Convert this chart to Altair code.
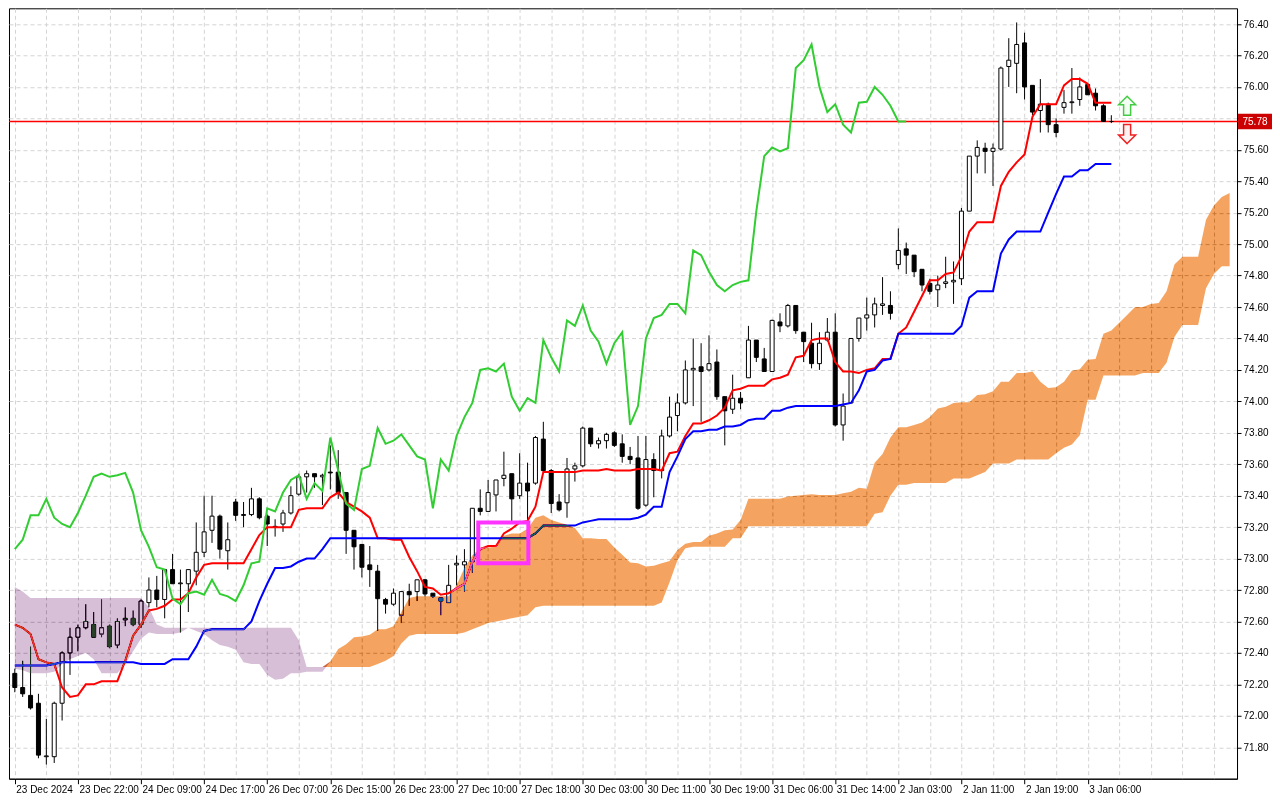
import json
import altair as alt
import pandas as pd

# ---------------- data ----------------
opens = [72.27, 72.18, 72.13, 72.08, 71.74, 71.74, 72.08, 72.40, 72.50, 72.56,
         72.58, 72.52, 72.57, 72.45, 72.61, 72.62, 72.58, 72.72, 72.80, 72.74,
         72.93, 72.84, 72.84, 72.92, 73.04, 73.18, 73.27, 73.05, 73.36, 73.28,
         73.28, 73.38, 73.27, 73.205, 73.22, 73.29, 73.41, 73.52, 73.54, 73.52,
         73.55, 73.55, 73.42, 73.18, 73.09, 72.96, 72.92, 72.74, 72.71, 72.64,
         72.79, 72.79, 72.865, 72.78, 72.75, 72.72, 72.96, 72.96, 72.98, 73.32,
         73.30, 73.405, 73.51, 73.54, 73.40, 73.48, 73.48, 73.76, 73.56, 73.36,
         73.355, 73.57, 73.59, 73.83, 73.73, 73.75, 73.80, 73.73, 73.65, 73.64,
         73.34, 73.63, 73.56, 73.78, 73.91, 73.99, 74.20, 74.22, 74.20, 74.25,
         74.03, 73.95, 74.02, 74.15, 74.39, 74.27, 74.19, 74.505, 74.48, 74.61,
         74.44, 74.37, 74.24, 74.39, 74.44, 73.85, 73.99, 74.40, 74.53, 74.55,
         74.61, 74.61, 74.87, 74.97, 74.93, 74.84, 74.75, 74.71, 74.75, 74.76,
         74.78, 75.21, 75.56, 75.61, 75.59, 75.605, 76.13, 76.15, 76.28, 76.01,
         75.85, 75.89, 75.76, 75.87, 75.90, 75.92, 76.015, 75.96, 75.88, 75.78]
highs = [72.30, 72.35, 72.44, 72.14, 71.98, 72.09, 72.41, 72.56, 72.58, 72.71,
         72.66, 72.74, 72.58, 72.62, 72.69, 72.67, 72.74, 72.88, 72.89, 72.93,
         73.03, 72.93, 72.93, 73.23, 73.40, 73.40, 73.28, 73.23, 73.38, 73.36,
         73.45, 73.39, 73.28, 73.25, 73.31, 73.46, 73.54, 73.56, 73.54, 73.54,
         73.72, 73.69, 73.42, 73.18, 73.09, 73.08, 72.96, 72.75, 72.81, 72.79,
         72.84, 72.865, 72.87, 72.78, 72.75, 72.96, 73.02, 73.06, 73.32, 73.44,
         73.50, 73.50, 73.68, 73.54, 73.67, 73.61, 73.78, 73.87, 73.57, 73.41,
         73.64, 73.61, 73.84, 73.83, 73.77, 73.80, 73.81, 73.79, 73.71, 73.78,
         73.78, 73.67, 73.82, 74.03, 74.05, 74.26, 74.40, 74.37, 74.42, 74.33,
         74.03, 74.17, 74.06, 74.48, 74.39, 74.34, 74.52, 74.56, 74.62, 74.61,
         74.44, 74.50, 74.44, 74.53, 74.56, 74.05, 74.40, 74.53, 74.66, 74.66,
         74.79, 74.70, 75.10, 75.01, 74.93, 74.84, 74.78, 74.80, 74.92, 74.89,
         75.23, 75.56, 75.66, 75.645, 75.64, 76.13, 76.31, 76.41, 76.345, 76.01,
         76.05, 75.90, 75.80, 75.98, 76.12, 76.06, 76.02, 75.99, 75.89, 75.82]
lows = [72.15, 72.12, 72.04, 71.73, 71.69, 71.70, 71.97, 72.26, 72.41, 72.55,
        72.50, 72.50, 72.43, 72.43, 72.57, 72.57, 72.56, 72.69, 72.69, 72.62,
        72.84, 72.53, 72.66, 72.83, 73.01, 73.10, 73.00, 72.93, 73.24, 73.20,
        73.27, 73.25, 73.08, 73.14, 73.17, 73.28, 73.40, 73.42, 73.45, 73.34,
        73.44, 73.38, 73.03, 72.93, 72.88, 72.82, 72.54, 72.65, 72.70, 72.59,
        72.70, 72.73, 72.76, 72.75, 72.64, 72.72, 72.83, 72.79, 72.91, 73.275,
        73.30, 73.30, 73.46, 73.23, 73.38, 73.23, 73.47, 73.55, 73.29, 73.30,
        73.26, 73.49, 73.58, 73.71, 73.70, 73.70, 73.71, 73.61, 73.60, 73.31,
        73.33, 73.39, 73.51, 73.77, 73.81, 73.98, 73.97, 73.87, 74.19, 74.01,
        73.72, 73.92, 73.95, 74.15, 74.25, 74.19, 74.19, 74.44, 74.47, 74.43,
        74.25, 74.21, 74.20, 74.38, 73.84, 73.75, 73.99, 74.38, 74.45, 74.47,
        74.55, 74.52, 74.84, 74.81, 74.79, 74.70, 74.68, 74.60, 74.72, 74.62,
        74.74, 75.21, 75.45, 75.45, 75.37, 75.595, 76.00, 75.96, 75.92, 75.82,
        75.71, 75.71, 75.68, 75.83, 75.83, 75.88, 75.95, 75.85, 75.78, 75.77]
closes = [72.18, 72.14, 72.05, 71.75, 71.745, 72.08, 72.40, 72.50, 72.56, 72.60,
          72.50, 72.56, 72.44, 72.60, 72.62, 72.58, 72.73, 72.80, 72.74, 72.93,
          72.84, 72.845, 72.93, 73.04, 73.17, 73.27, 73.06, 73.12, 73.275, 73.275,
          73.38, 73.26, 73.22, 73.20, 73.29, 73.40, 73.52, 73.54, 73.52, 73.53,
          73.545, 73.42, 73.18, 73.075, 72.945, 72.93, 72.745, 72.71, 72.78, 72.79,
          72.77, 72.865, 72.775, 72.76, 72.73, 72.83, 72.97, 72.98, 73.32, 73.30,
          73.42, 73.50, 73.53, 73.38, 73.48, 73.43, 73.77, 73.56, 73.35, 73.31,
          73.57, 73.59, 73.83, 73.73, 73.75, 73.79, 73.72, 73.65, 73.63, 73.32,
          73.63, 73.56, 73.78, 73.90, 73.99, 74.20, 74.21, 74.19, 74.24, 74.03,
          73.94, 74.02, 73.99, 74.39, 74.28, 74.19, 74.515, 74.48, 74.61, 74.45,
          74.38, 74.24, 74.37, 74.44, 73.85, 73.97, 74.40, 74.53, 74.55, 74.62,
          74.62, 74.56, 74.96, 74.93, 74.825, 74.74, 74.70, 74.74, 74.76, 74.77,
          75.21, 75.56, 75.615, 75.59, 75.61, 76.12, 76.17, 76.27, 76.00, 75.84,
          75.89, 75.76, 75.71, 75.90, 75.905, 76.00, 75.95, 75.88, 75.78, 75.78]

tenkan = [72.58, 72.56, 72.52, 72.36, 72.34, 72.33, 72.18, 72.12, 72.13, 72.20,
          72.20, 72.22, 72.22, 72.22, 72.35, 72.51, 72.58, 72.67, 72.68, 72.70,
          72.74, 72.74, 72.78, 72.88, 72.96, 72.97, 72.97, 72.97, 72.97, 72.97,
          73.06, 73.15, 73.20, 73.20, 73.20, 73.20, 73.31, 73.32, 73.32, 73.32,
          73.39, 73.42, 73.36, 73.33, 73.30, 73.26, 73.13, 73.13, 73.12, 73.12,
          73.01, 72.92, 72.82, 72.81, 72.77, 72.78, 72.81, 72.84, 72.98, 73.06,
          73.08, 73.08, 73.16, 73.19, 73.23, 73.24, 73.33, 73.55, 73.55, 73.55,
          73.55, 73.55, 73.56, 73.56, 73.56, 73.57, 73.56, 73.56, 73.56, 73.57,
          73.57, 73.57, 73.56, 73.67, 73.68, 73.78, 73.86, 73.86, 73.88, 73.91,
          73.96, 74.07, 74.08, 74.10, 74.10, 74.10, 74.14, 74.15, 74.17, 74.28,
          74.29, 74.39, 74.40, 74.40, 74.25, 74.19, 74.19, 74.18, 74.20, 74.21,
          74.27, 74.27, 74.43, 74.47, 74.57, 74.67, 74.77, 74.77, 74.81, 74.82,
          74.92, 75.08, 75.14, 75.14, 75.14, 75.37, 75.46, 75.52, 75.57, 75.81,
          75.89, 75.89, 75.89, 76.01, 76.05, 76.05, 76.02, 75.90, 75.90, 75.90]

kijun = [72.32, 72.32, 72.32, 72.32, 72.32, 72.33, 72.34, 72.34, 72.34, 72.34,
         72.34, 72.34, 72.34, 72.34, 72.34, 72.34, 72.33, 72.33, 72.33, 72.33,
         72.36, 72.36, 72.36, 72.44, 72.54, 72.55, 72.55, 72.55, 72.55, 72.55,
         72.60, 72.73, 72.84, 72.94, 72.94, 72.95, 72.98, 73.00, 73.00, 73.06,
         73.13, 73.13, 73.13, 73.13, 73.13, 73.13, 73.13, 73.13, 73.13, 73.13,
         73.13, 73.13, 73.13, 73.13, 73.13, 73.13, 73.13, 73.13, 73.13, 73.13,
         73.13, 73.13, 73.13, 73.13, 73.13, 73.13, 73.16, 73.21, 73.21, 73.21,
         73.21, 73.21, 73.23, 73.24, 73.25, 73.25, 73.25, 73.25, 73.25, 73.26,
         73.28, 73.33, 73.33, 73.55, 73.65, 73.76, 73.81, 73.81, 73.82, 73.82,
         73.84, 73.84, 73.85, 73.88, 73.89, 73.89, 73.94, 73.94, 73.96, 73.97,
         73.97, 73.97, 73.97, 73.97, 73.97, 73.98, 73.99, 74.07, 74.19, 74.20,
         74.26, 74.27, 74.43, 74.43, 74.43, 74.43, 74.43, 74.43, 74.43, 74.43,
         74.48, 74.66, 74.70, 74.70, 74.70, 74.94, 75.03, 75.08, 75.08, 75.08,
         75.08, 75.20, 75.32, 75.43, 75.43, 75.47, 75.47, 75.51, 75.51, 75.51]

span_a = [72.30, 72.29, 72.27, 72.27, 72.27, 72.28, 72.33, 72.36, 72.38, 72.40,
          72.36, 72.27, 72.27, 72.27, 72.33, 72.41, 72.49, 72.53, 72.52, 72.52,
          72.52, 72.53, 72.56, 72.54, 72.52, 72.48,
          72.45, 72.44, 72.42, 72.34, 72.33, 72.33, 72.26, 72.23, 72.235, 72.27,
          72.27, 72.28, 72.28, 72.28, 72.345, 72.425, 72.455, 72.50, 72.505, 72.515,
          72.55, 72.55, 72.57, 72.66, 72.75, 72.76, 72.76, 72.76, 72.76, 72.76,
          72.83, 72.94, 73.02, 73.07, 73.07, 73.075, 73.145, 73.16, 73.16, 73.19,
          73.26, 73.275, 73.245, 73.23, 73.215, 73.195, 73.13, 73.13, 73.125, 73.125,
          73.07, 73.025, 72.975, 72.97, 72.95, 72.955, 72.97, 72.985, 73.055, 73.095,
          73.105, 73.105, 73.145, 73.16, 73.18, 73.185, 73.245, 73.38, 73.38, 73.38,
          73.38, 73.38, 73.395, 73.40, 73.405, 73.41, 73.405, 73.405, 73.405, 73.415,
          73.425, 73.45, 73.445, 73.61, 73.665, 73.77, 73.835, 73.835, 73.85, 73.865,
          73.90, 73.955, 73.965, 73.99, 73.995, 73.995, 74.04, 74.045, 74.065, 74.125,
          74.125, 74.18, 74.18, 74.19, 74.125, 74.085, 74.09, 74.125, 74.195, 74.205,
          74.265, 74.27, 74.43, 74.45, 74.50, 74.55, 74.60, 74.60, 74.62, 74.625,
          74.70, 74.87, 74.92, 74.92, 74.92, 75.155, 75.245, 75.30, 75.325]

span_b = [72.82, 72.79, 72.75, 72.75, 72.75, 72.75, 72.75, 72.75, 72.75, 72.75,
          72.75, 72.75, 72.75, 72.75, 72.75, 72.75, 72.75, 72.69, 72.58, 72.56,
          72.56, 72.56, 72.56, 72.56, 72.56, 72.56, 72.56, 72.56, 72.56, 72.56,
          72.56, 72.56, 72.56, 72.56, 72.56, 72.56, 72.48, 72.31, 72.31, 72.31,
          72.31, 72.31, 72.31, 72.31, 72.31, 72.31, 72.33, 72.35, 72.38, 72.46,
          72.51, 72.52, 72.52, 72.52, 72.52, 72.52, 72.52, 72.53, 72.55, 72.57,
          72.59, 72.60, 72.61, 72.62, 72.63, 72.64, 72.69, 72.70, 72.70, 72.70,
          72.70, 72.70, 72.70, 72.70, 72.70, 72.70, 72.70, 72.70, 72.70, 72.70,
          72.70, 72.70, 72.72, 72.85, 72.99, 73.065, 73.075, 73.075, 73.075, 73.075,
          73.075, 73.13, 73.13, 73.205, 73.205, 73.205, 73.205, 73.205, 73.205, 73.205,
          73.205, 73.205, 73.205, 73.205, 73.205, 73.205, 73.205, 73.205, 73.205, 73.285,
          73.295, 73.40, 73.47, 73.47, 73.48, 73.48, 73.48, 73.48, 73.48, 73.51,
          73.51, 73.51, 73.53, 73.55, 73.605, 73.605, 73.605, 73.63, 73.63, 73.63,
          73.63, 73.63, 73.67, 73.705, 73.725, 73.785, 74.01, 74.01, 74.165, 74.165,
          74.165, 74.165, 74.165, 74.18, 74.18, 74.18, 74.245, 74.41, 74.485, 74.485,
          74.485, 74.72, 74.81, 74.86, 74.86]

time_labels = ["23 Dec 2024", "23 Dec 22:00", "24 Dec 09:00", "24 Dec 17:00",
               "26 Dec 07:00", "26 Dec 15:00", "26 Dec 23:00", "27 Dec 10:00",
               "27 Dec 18:00", "30 Dec 03:00", "30 Dec 11:00", "30 Dec 19:00",
               "31 Dec 06:00", "31 Dec 14:00", "2 Jan 03:00", "2 Jan 11:00",
               "2 Jan 19:00", "3 Jan 06:00"]
price_ticks = [71.80, 72.00, 72.20, 72.40, 72.60, 72.80, 73.00, 73.20, 73.40,
               73.60, 73.80, 74.00, 74.20, 74.40, 74.60, 74.80, 75.00, 75.20,
               75.40, 75.60, 75.80, 76.00, 76.20, 76.40]
current_price = [75.78]
chikou_shift = 26
label_step = 8
grid_step = 4

# annotations
box = {"x0": [58.75], "x1": [65.1], "y0": [72.97], "y1": [73.23]}
arrow_up = {"i": [141], "p": [75.88]}
arrow_down = {"i": [141], "p": [75.70]}

# ---------------- frames ----------------
N = len(closes)
candles = pd.DataFrame({"i": list(range(N)), "o": opens, "h": highs, "l": lows, "c": closes})
lines = pd.DataFrame({"i": list(range(N)), "tenkan": tenkan, "kijun": kijun})
chikou = pd.DataFrame({"i": [k - chikou_shift for k in range(chikou_shift, N)],
                       "v": closes[chikou_shift:]})
cloud = pd.DataFrame({"i": list(range(len(span_a))), "a": span_a, "b": span_b})

W, H = 1229, 771
FONT = "Liberation Sans"
xs = alt.Scale(domain=[-0.1, 154.3], nice=False, zero=False)
ys = alt.Scale(domain=[71.60, 76.50], nice=False, zero=False)

last_label = label_step * (len(time_labels) - 1)
has_label = f"(datum.value % {label_step} == 0 && datum.value <= {last_label})"
label_expr = (f"{has_label} ? {json.dumps(time_labels)}"
              f"[datum.value / {label_step}] : ''")
x_axis = alt.Axis(values=list(range(0, 153, grid_step)), labelExpr=label_expr, title=None,
                  grid=True, labelAlign="left", labelBaseline="top", labelPadding=1,
                  labelOffset=1, labelFlush=False, labelOverlap=False, labelBound=False,
                  tickSize=5,
                  tickOpacity={"condition": {"test": has_label, "value": 1}, "value": 0})
y_label_expr = (f"abs(datum.value - {current_price[0]}) < 0.1 ? '' : "
                f"format(datum.value, '.2f')")
y_axis = alt.Axis(orient="right", values=price_ticks, labelExpr=y_label_expr, title=None,
                  grid=True, tickSize=4, labelPadding=2, labelOverlap=False,
                  labelFlush=False)


def X(f):
    return alt.X(f, type="quantitative", scale=xs, axis=x_axis)


def Y(f):
    return alt.Y(f, type="quantitative", scale=ys, axis=y_axis)


price_df = pd.DataFrame({"p": current_price})
price_rule = alt.Chart(price_df).mark_rule(
    stroke="#ff0000", color="#ff0000", strokeWidth=1.3, opacity=1).encode(
    y=Y("p"), x=alt.value(0), x2=alt.value(W))

wicks = alt.Chart(candles).mark_rule(color="black", strokeWidth=1).encode(
    x=X("i"), y=Y("l"), y2=alt.Y2("h"))
bodies = alt.Chart(candles).mark_bar(size=4, stroke="black", strokeWidth=1).encode(
    x=X("i"), y=Y("o"), y2=alt.Y2("c"),
    fill=alt.condition("datum.c >= datum.o", alt.value("white"), alt.value("black")))
tenkan_line = alt.Chart(lines).mark_line(color="#ff0000", strokeWidth=2).encode(
    x=X("i"), y=Y("tenkan"))
kijun_line = alt.Chart(lines).mark_line(color="#0000ff", strokeWidth=2).encode(
    x=X("i"), y=Y("kijun"))
chikou_line = alt.Chart(chikou).mark_line(color="#32cd32", strokeWidth=2).encode(
    x=X("i"), y=Y("v"))

cloud_purple = alt.Chart(cloud).transform_calculate(top="max(datum.a, datum.b)").mark_area(
    color="#274027", blend="difference", opacity=1, interpolate="linear").encode(
    x=X("i"), y=Y("a"), y2=alt.Y2("top"))
cloud_orange = alt.Chart(cloud).transform_calculate(top="max(datum.a, datum.b)").mark_area(
    color="#0B5B9F", blend="difference", opacity=1, interpolate="linear").encode(
    x=X("i"), y=Y("b"), y2=alt.Y2("top"))

box_mark = alt.Chart(pd.DataFrame(box)).mark_rect(
    filled=False, stroke="#ff33ff", strokeWidth=4).encode(
    x=X("x0"), x2=alt.X2("x1"), y=Y("y0"), y2=alt.Y2("y1"))

UP = "M0,-1 L0.9,-0.1 L0.37,-0.1 L0.37,1 L-0.37,1 L-0.37,-0.1 L-0.9,-0.1 Z"
DOWN = "M0,1 L0.9,0.1 L0.37,0.1 L0.37,-1 L-0.37,-1 L-0.37,0.1 L-0.9,0.1 Z"
up_mark = alt.Chart(pd.DataFrame(arrow_up)).mark_point(
    shape=UP, size=361, filled=True, fill="#f4fff4", stroke="#44cc44", strokeWidth=1.5,
    opacity=1).encode(x=X("i"), y=Y("p"))
down_mark = alt.Chart(pd.DataFrame(arrow_down)).mark_point(
    shape=DOWN, size=361, filled=True, fill="#fff4f4", stroke="#ee2222", strokeWidth=1.5,
    opacity=1).encode(x=X("i"), y=Y("p"))

RECT = "M-1,-0.45 L1,-0.45 L1,0.45 L-1,0.45 Z"
label_box = alt.Chart(price_df).mark_point(
    shape=RECT, size=1156, filled=True, color="#cc0000", opacity=1).encode(
    x=alt.value(W + 18), y=Y("p"))
label_text = alt.Chart(price_df).mark_text(
    color="white", font=FONT, fontSize=10, align="center", baseline="middle").encode(
    x=alt.value(W + 18), y=Y("p"), text=alt.Text("p:Q", format=".2f"))

chart = alt.layer(
    price_rule, wicks, bodies, tenkan_line, kijun_line, chikou_line,
    cloud_purple, cloud_orange, box_mark, up_mark, down_mark, label_box, label_text
).properties(
    width=W, height=H, padding=0, background="white"
).configure_view(
    stroke="black", strokeWidth=1, fill="white"
).configure_axis(
    domainColor="black", tickColor="black", labelColor="black", labelFont=FONT,
    labelFontSize=10, gridColor="#d4d4d4", gridDash=[4, 3], gridWidth=1
)

chart.save("out.html", embed_options={"renderer": "svg", "actions": False})
